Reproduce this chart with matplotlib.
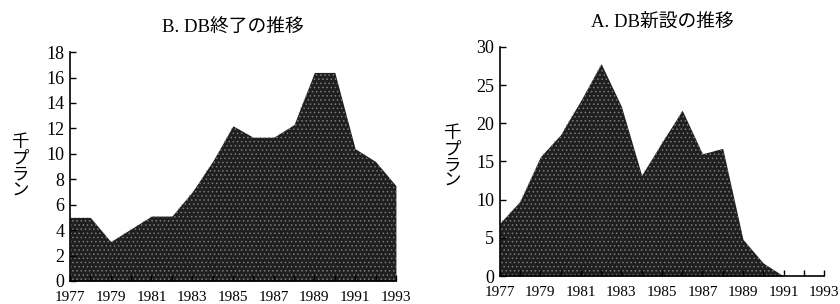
import matplotlib
matplotlib.use('Agg')
import matplotlib.pyplot as plt
from matplotlib.ticker import MultipleLocator

plt.rcParams['font.family'] = ['Liberation Serif', 'Noto Sans CJK JP']
plt.rcParams['hatch.color'] = '#8a8a8a'
plt.rcParams['hatch.linewidth'] = 0.6

years = list(range(1977, 1994))

# B. plan terminations (thousand plans)
db_terminated = [5.0, 5.0, 3.1, 4.1, 5.1, 5.1, 7.0, 9.4, 12.2, 11.3, 11.3,
                 12.3, 16.4, 16.4, 10.4, 9.4, 7.5]

# A. new plans (thousand plans)
db_new = [6.9, 9.8, 15.6, 18.5, 23.0, 27.8, 22.2, 13.2, 17.5, 21.7, 16.0,
          16.7, 4.8, 1.7, 0.0, 0.0, 0.0]

year_labels = [str(y) for y in range(1977, 1994, 2)]


def draw_panel(ax, values, title, ymax, ystep):
    ax.fill_between(years, values, color='#1f1f1f', linewidth=0)
    ax.fill_between(years, values, facecolor='none', hatch='....',
                    edgecolor='#7a7a7a', linewidth=0)
    ax.set_xlim(1977, 1993)
    ax.set_ylim(0, ymax)
    ax.set_xticks(range(1977, 1994, 2))
    ax.set_xticklabels(year_labels)
    ax.xaxis.set_minor_locator(MultipleLocator(1))
    ax.yaxis.set_major_locator(MultipleLocator(ystep))
    ax.tick_params(direction='in', length=4, width=1)
    ax.tick_params(axis='x', labelsize=11, pad=7)
    ax.tick_params(axis='y', labelsize=13, pad=4)
    ax.tick_params(which='minor', direction='in', length=4, width=1)
    for s in ['top', 'right']:
        ax.spines[s].set_visible(False)
    for s in ['left', 'bottom']:
        ax.spines[s].set_linewidth(1.2)
    ax.set_title(title, fontsize=13.5, pad=14)


fig = plt.figure(figsize=(8.4, 3.04), dpi=100)

ax1 = fig.add_axes([0.0833, 0.0757, 0.388, 0.753])
draw_panel(ax1, db_terminated, 'B. DB終了の推移', 18, 2)
fig.text(0.024, 0.45, '千\nプ\nラ\nン', fontsize=12.5, ha='center',
         va='center', linespacing=1.0)

ax2 = fig.add_axes([0.595, 0.092, 0.386, 0.754])
draw_panel(ax2, db_new, 'A. DB新設の推移', 30, 5)
fig.text(0.538, 0.48, '千\nプ\nラ\nン', fontsize=12.5, ha='center',
         va='center', linespacing=1.0)

fig.savefig('out.png', dpi=100)
